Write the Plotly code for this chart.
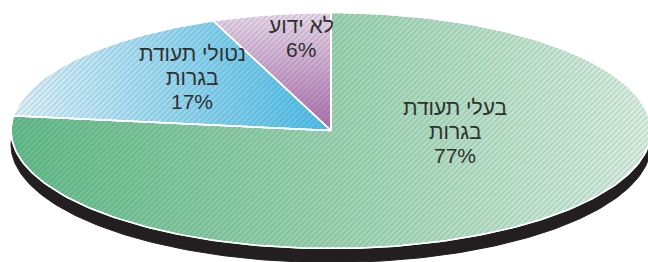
import numpy as np
import plotly.graph_objects as go

# ---- data ----
categories = [["בעלי תעודת", "בגרות"], ["נטולי תעודת", "בגרות"], ["לא ידוע"]]
values = [77, 17, 6]
pct_labels = ["77%", "17%", "6%"]

W, H = 648, 262
cx, cy, a, b = 331, 130.5, 320, 118
depth = 14

fig = go.Figure()

def arc(t0, t1, n=200, dy=0.0):
    t = np.linspace(t0, t1, n)
    return cx + a * np.cos(t), cy + dy - b * np.sin(t)

# shadow / side of 3D pie
sx, sy = arc(0, 2 * np.pi, 400, dy=depth)
fig.add_trace(go.Scatter(x=sx, y=sy, fill="toself", mode="lines",
                         fillcolor="#231f20", line=dict(color="#231f20", width=1),
                         hoverinfo="skip", showlegend=False))

grads = [
    dict(type="horizontal", colorscale=[[0, "#66bd8c"], [0.5, "#9dd4b3"], [1, "#dbf0e3"]], start=10, stop=650),
    dict(type="horizontal", colorscale=[[0, "#e0f3fc"], [0.35, "#b0e1f6"], [1, "#4fbeea"]], start=10, stop=332),
    dict(type="vertical", colorscale=[[0, "#ebdaed"], [1, "#ad6cae"]], start=12, stop=132),
]

total = sum(values)
start = np.pi / 2
polys = []
for v, g in zip(values, grads):
    ang = 2 * np.pi * v / total
    t0, t1 = start, start - ang
    ax_, ay_ = arc(t0, t1, 200)
    px = np.concatenate([[cx], ax_, [cx]])
    py = np.concatenate([[cy], ay_, [cy]])
    polys.append((px, py))
    fig.add_trace(go.Scatter(x=px, y=py, fill="toself", mode="lines",
                             fillgradient=g, line=dict(color="white", width=1.5),
                             hoverinfo="skip", showlegend=False))
    start = t1

# hatch texture overlay
for px, py in polys:
    fig.add_trace(go.Scatter(x=px, y=py, fill="toself", mode="lines",
                             fillcolor="rgba(0,0,0,0)",
                             fillpattern=dict(shape="/", fgcolor="#1d4a35", fgopacity=0.18,
                                              size=4, solidity=0.35, fillmode="overlay"),
                             line=dict(color="white", width=1.5),
                             hoverinfo="skip", showlegend=False))

# labels (one annotation per line for tight line spacing)
label_pos = [(455, 107), (192, 53), (301, 25)]
line_gap = 24
for cat, pl, (lx, ly) in zip(categories, pct_labels, label_pos):
    for i, txt in enumerate(cat + [pl]):
        fig.add_annotation(x=lx, y=ly + i * line_gap, text=txt, showarrow=False,
                           font=dict(family="Liberation Sans, Arial, DejaVu Sans", size=21, color="#303030"),
                           xanchor="center", yanchor="middle")

fig.update_layout(
    width=W, height=H, margin=dict(l=0, r=0, t=0, b=0),
    paper_bgcolor="white", plot_bgcolor="white",
    xaxis=dict(range=[0, W], visible=False, fixedrange=True),
    yaxis=dict(range=[H, 0], visible=False, fixedrange=True),
)

fig.write_html("out.html", config={"displayModeBar": False},
               post_script="document.body.style.margin='0';document.body.style.overflow='hidden';")
